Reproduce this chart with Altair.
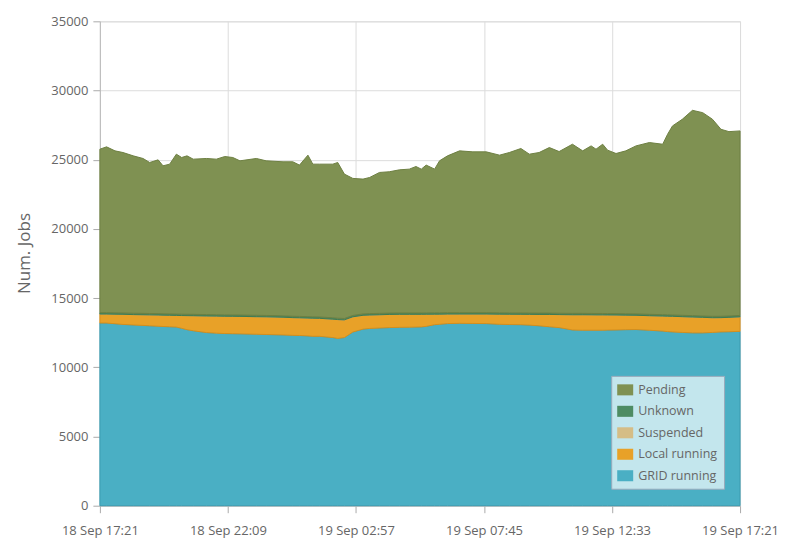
import altair as alt
import pandas as pd

# minutes since 18 Sep 17:21
minutes = [0, 15, 34, 52, 75, 97, 112, 131, 142, 157,
           172, 184, 196, 210, 240, 262, 281, 299, 315, 352,
           374, 412, 434, 449, 468, 479, 494, 524, 535, 550,
           569, 592, 607, 629, 651, 674, 696, 711, 723, 734,
           753, 764, 782, 809, 839, 869, 899, 921, 947, 966,
           988, 1011, 1033, 1063, 1086, 1105, 1116, 1131, 1142, 1161,
           1183, 1206, 1236, 1266, 1277, 1288, 1310, 1333, 1356, 1378,
           1397, 1415, 1440]

grid_running = [13200, 13200, 13150, 13100, 13060, 13030, 13000, 12970, 12950, 12930,
                12910, 12820, 12720, 12640, 12510, 12470, 12440, 12430, 12420, 12390,
                12370, 12340, 12310, 12300, 12270, 12240, 12240, 12150, 12090, 12150,
                12550, 12760, 12810, 12840, 12870, 12890, 12900, 12910, 12920, 12960,
                13080, 13110, 13160, 13180, 13170, 13160, 13110, 13090, 13080, 13050,
                13000, 12930, 12870, 12700, 12680, 12680, 12680, 12680, 12690, 12700,
                12720, 12730, 12680, 12620, 12580, 12560, 12520, 12490, 12490, 12520,
                12560, 12570, 12600]

local_running = [650, 650, 690, 730, 750, 770, 790, 810, 820, 830,
                 840, 920, 1015, 1090, 1200, 1230, 1250, 1255, 1260, 1270,
                 1280, 1280, 1280, 1280, 1290, 1310, 1300, 1330, 1360, 1280,
                 1100, 1000, 970, 960, 950, 940, 930, 920, 910, 875,
                 760, 730, 690, 670, 680, 690, 730, 745, 750, 775,
                 820, 890, 940, 1100, 1120, 1115, 1110, 1110, 1095, 1080,
                 1050, 1030, 1050, 1085, 1115, 1125, 1140, 1145, 1120, 1065,
                 1030, 1040, 1050]

suspended = [0] * len(minutes)
unknown = [100] * len(minutes)

pending = [11810, 11980, 11700, 11590, 11370, 11190, 10910, 11110, 10690, 10820,
           11550, 11320, 11445, 11210, 11280, 11240, 11440, 11375, 11140, 11330,
           11170, 11130, 11160, 10930, 11670, 11030, 11040, 11100, 11250, 10430,
           9900, 9740, 9840, 10180, 10210, 10340, 10390, 10580, 10390, 10675,
           10380, 10980, 11330, 11690, 11620, 11620, 11390, 11585, 11880, 11475,
           11600, 11960, 11680, 12220, 11740, 12105, 11870, 12230, 11805, 11570,
           11770, 12140, 12410, 12315, 13045, 13655, 14160, 14835, 14690, 14235,
           13510, 13320, 13330]

legend_order = ["Pending", "Unknown", "Suspended", "Local running", "GRID running"]
fill_colors = ["#7f9152", "#4e8c63", "#d5bd86", "#e8a128", "#4aafc4"]
edge_colors = ["#6d7f42", "#3f7a52", "#c0a870", "#d58f1c", "#3a9bb0"]

tick_times = [(18, 17, 21), (18, 22, 9), (19, 2, 57), (19, 7, 45), (19, 12, 33), (19, 17, 21)]
y_ticks = [0, 5000, 10000, 15000, 20000, 25000, 30000, 35000]

start = pd.Timestamp("2012-09-18 17:21")
times = [start + pd.Timedelta(minutes=m) for m in minutes]
stack = [("GRID running", grid_running, 0), ("Local running", local_running, 1),
         ("Suspended", suspended, 2), ("Unknown", unknown, 3), ("Pending", pending, 4)]
rows = []
for name, vals, o in stack:
    for t, v in zip(times, vals):
        rows.append({"time": t, "series": name, "jobs": v, "ord": o})
df = pd.DataFrame(rows)

def dt(d, h, m):
    return alt.DateTime(year=2012, month="Sep", date=d, hours=h, minutes=m)

font = "Open Sans"

chart = alt.Chart(df).mark_area(strokeWidth=1, interpolate="linear").encode(
    x=alt.X("time:T",
            scale=alt.Scale(domain=[dt(*tick_times[0]), dt(*tick_times[-1])], nice=False),
            axis=alt.Axis(values=[dt(*t) for t in tick_times], format="%d %b %H:%M", title=None,
                          labelFont=font, labelFontSize=13, labelColor="#666", tickSize=7,
                          tickColor="#aaa", domainColor="#bbb", labelPadding=12,
                          grid=True, gridColor="#dcdcdc", labelFlush=False)),
    y=alt.Y("jobs:Q", stack="zero",
            scale=alt.Scale(domain=[0, 35000], nice=False),
            axis=alt.Axis(values=y_ticks, format="d", title="Num. Jobs",
                          labelFont=font, labelFontSize=13, labelColor="#666",
                          titleFont=font, titleFontSize=17, titleColor="#666", titleFontWeight="normal",
                          titleX=-75, titleY=232, titleAngle=-90, titleAlign="center", titleBaseline="middle",
                          tickSize=7, tickColor="#aaa", domainColor="#bbb", labelPadding=5,
                          grid=True, gridColor="#dcdcdc")),
    color=alt.Color("series:N", scale=alt.Scale(domain=legend_order, range=fill_colors),
                    legend=alt.Legend(title=None, orient="none", legendX=512, legendY=355,
                                      fillColor="#c3e6ed", strokeColor="#9ab", padding=6,
                                      symbolType="M-1,-0.69H1V0.69H-1Z", symbolSize=256,
                                      symbolStrokeWidth=0, symbolOpacity=1,
                                      labelFont=font, labelFontSize=12.5, labelColor="#666",
                                      rowPadding=6.5, labelOffset=5)),
    stroke=alt.Stroke("series:N", scale=alt.Scale(domain=legend_order, range=edge_colors), legend=None),
    order=alt.Order("ord:Q", sort="ascending"),
).properties(
    width=641, height=485,
    autosize=alt.AutoSizeParams(type="none"),
    padding={"left": 92, "top": 13, "right": 40, "bottom": 35},
).configure_view(fill="#fefcf4", stroke="#d8d8d8").configure(background="white")

chart.save("out.html", embed_options={"renderer": "svg", "actions": False})
